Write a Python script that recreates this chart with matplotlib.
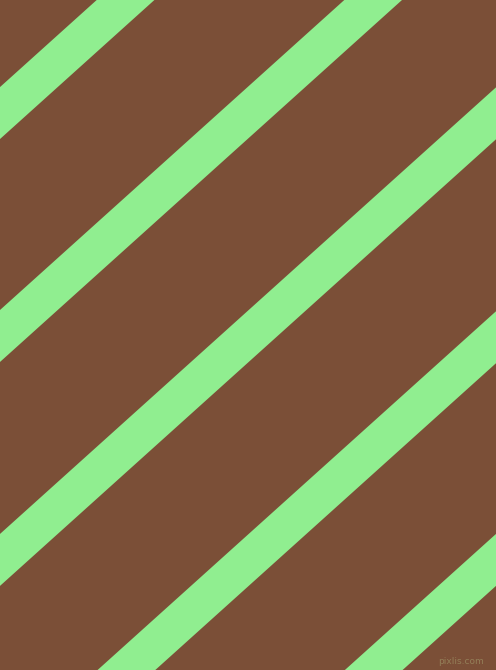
import numpy as np
import matplotlib
matplotlib.use("Agg")
import matplotlib.pyplot as plt

# stripe data: where each stripe's upper edge meets the top border (px)
stripe_starts = [96.7, 344.3, 593.0, 841.7, 1089.0]
stripe_width = 57.7      # horizontal width of a stripe
angle_deg = 42.0         # slope of the stripes
bg_color = "#7b4f37"
stripe_color = "#90ee90"

W, H = 496, 670
fig = plt.figure(figsize=(W / 100, H / 100), dpi=100)
ax = fig.add_axes([0, 0, 1, 1])
ax.set_xlim(0, W)
ax.set_ylim(H, 0)
ax.set_facecolor(bg_color)
ax.axis("off")
fig.patch.set_facecolor(bg_color)

t = np.tan(np.radians(angle_deg))
y0, y1 = -20, H + 20
for x0 in stripe_starts:
    xs = [x0 - y0 / t, x0 + stripe_width - y0 / t,
          x0 + stripe_width - y1 / t, x0 - y1 / t]
    ys = [y0, y0, y1, y1]
    ax.fill(xs, ys, color=stripe_color, lw=0)

ax.text(484, 662, "pixlis.com", ha="right", va="center",
        fontsize=6.5, color="#9a8a60", alpha=0.8)

fig.savefig("out.png", dpi=100, facecolor=bg_color)
